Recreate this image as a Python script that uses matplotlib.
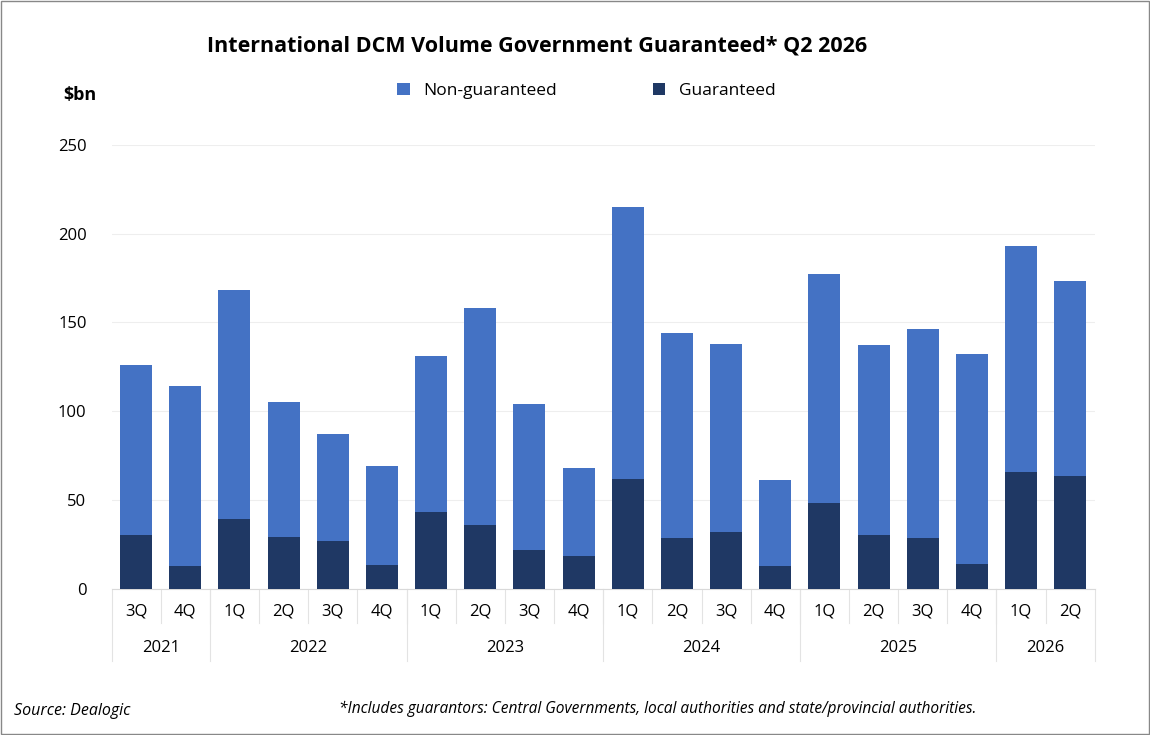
import matplotlib
matplotlib.use("Agg")
import matplotlib.pyplot as plt
from matplotlib.patches import Rectangle

quarters = ["3Q","4Q","1Q","2Q","3Q","4Q","1Q","2Q","3Q","4Q","1Q","2Q","3Q","4Q","1Q","2Q","3Q","4Q","1Q","2Q"]
years = ["2021","2022","2023","2024","2025","2026"]
year_counts = [2,4,4,4,4,2]
total = [126,114,168,105,87,69,131,158,104,68,215,144,138,61,177,137,146,132,193,173.5]
guaranteed = [30,13,39,29,27,13.5,43,36,22,18.5,62,28.7,32,13,48.5,30,28.7,14,65.5,63.5]
non_guaranteed = [t-g for t,g in zip(total, guaranteed)]

plt.rcParams['font.family'] = ['Open Sans', 'DejaVu Sans']
fig = plt.figure(figsize=(11.5,7.35), dpi=100)
fig.patches.append(Rectangle((0.001,0.001),0.998,0.998, transform=fig.transFigure, fill=False, ec='#888888', lw=1))
ax = fig.add_axes([0.097,0.199,0.855,0.604])
x = list(range(len(quarters)))
ax.bar(x, guaranteed, width=0.65, color='#1F3864', label='Guaranteed', zorder=3)
ax.bar(x, non_guaranteed, bottom=guaranteed, width=0.65, color='#4472C4', label='Non-guaranteed', zorder=3)
ax.set_ylim(0,250)
ax.set_xlim(-0.5, len(x)-0.5)
ax.set_yticks(range(0,251,50))
ax.tick_params(axis='y', length=0, labelsize=12, pad=18)
ax.tick_params(axis='x', length=0)
ax.set_xticks([])
ax.yaxis.grid(True, color='#eeeeee', lw=0.8, zorder=0)
for s in ['top','right','left']:
    ax.spines[s].set_visible(False)
ax.spines['bottom'].set_color('#d9d9d9')
trans = ax.get_xaxis_transform()
for i,q in enumerate(quarters):
    ax.text(i, -0.052, q, transform=trans, ha='center', va='center', fontsize=12)
lc = '#e3e3e3'
for i in range(len(quarters)-1):
    ax.plot([i+0.5,i+0.5],[0,-0.077],transform=trans,color=lc,lw=0.8,clip_on=False)
pos = -0.5
ax.plot([pos,pos],[0,-0.163],transform=trans,color=lc,lw=0.8,clip_on=False)
for y,c in zip(years, year_counts):
    ax.text(pos + c/2, -0.133, y, transform=trans, ha='center', va='center', fontsize=12)
    pos += c
    ax.plot([pos,pos],[0,-0.163],transform=trans,color=lc,lw=0.8,clip_on=False)
h,l = ax.get_legend_handles_labels()
fig.legend(h[::-1], l[::-1], loc='center', bbox_to_anchor=(0.51,0.876), ncol=2, frameon=False,
           fontsize=12.5, handlelength=0.7, handleheight=0.7, columnspacing=5.5)
fig.text(0.055,0.871,'$bn', fontsize=13, fontweight='bold', ha='left', va='center')
fig.text(0.467,0.937,'International DCM Volume Government Guaranteed* Q2 2026', fontsize=15.5, fontweight='bold', ha='center', va='center')
fig.text(0.012,0.033,'Source: Dealogic', fontsize=11.5, style='italic', ha='left', va='center')
fig.text(0.295,0.036,'*Includes guarantors: Central Governments, local authorities and state/provincial authorities.', fontsize=11.2, style='italic', ha='left', va='center')
fig.savefig('out.png', dpi=100)
